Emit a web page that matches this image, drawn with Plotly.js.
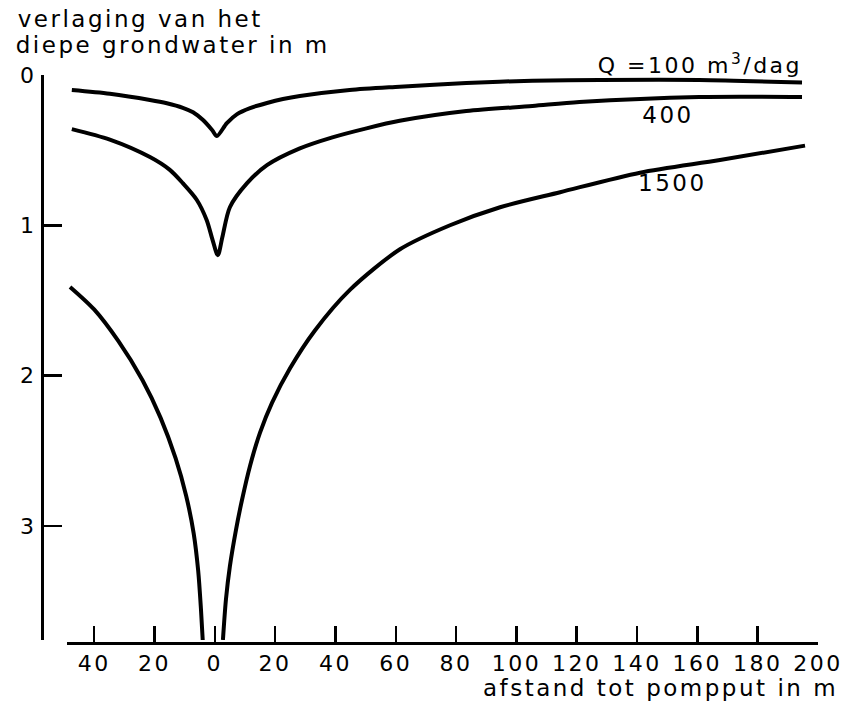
<!DOCTYPE html>
<html><head><meta charset="utf-8">
<script src="https://cdn.plot.ly/plotly-3.0.1.min.js"></script>
<style>body{margin:0;background:#fff} #chart text{letter-spacing:2.5px}</style>
</head><body><div id="chart" style="width:842px;height:703px"></div>
<script>
// Drawdown of deep groundwater (m) vs distance to pumping well (m)
const q100_x = [-47.4, -34.8, -21.5, -15.9, -10.6, -7.2, -3.9, -0.9, 0.7, 4, 7.4, 11.7, 17.3, 22.6, 28.2, 44.7, 61.3, 83.4, 105.3, 127.5, 160.6, 194.7];
const q100_y = [0.10, 0.125, 0.166, 0.188, 0.218, 0.248, 0.30, 0.366, 0.406, 0.32, 0.26, 0.22, 0.186, 0.16, 0.14, 0.10, 0.078, 0.053, 0.038, 0.033, 0.033, 0.05];

const q400_x = [-47.4, -34.8, -21.5, -15, -10.6, -6, -2.7, -0.7, 1, 2.5, 5, 10.7, 17.3, 28, 39, 50.3, 61.3, 83.4, 105.3, 120.9, 160.6, 194.7];
const q400_y = [0.36, 0.43, 0.546, 0.63, 0.72, 0.83, 0.965, 1.10, 1.2, 1.08, 0.88, 0.72, 0.60, 0.49, 0.415, 0.355, 0.305, 0.24, 0.206, 0.18, 0.146, 0.146];

const q1500_left_x = [-48, -40, -32, -24, -18, -13, -9.5, -7, -5.5, -4.6, -4];
const q1500_left_y = [1.41, 1.56, 1.77, 2.03, 2.28, 2.55, 2.80, 3.05, 3.30, 3.55, 3.76];
const q1500_right_x = [2.7, 3.7, 5.0, 7.0, 9.0, 11.7, 15.0, 19.0, 25.0, 33.2, 44.8, 61.4, 78.0, 94.6, 114.5, 141.0, 167.5, 195.7];
const q1500_right_y = [3.76, 3.49, 3.27, 3.03, 2.83, 2.60, 2.38, 2.18, 1.95, 1.70, 1.43, 1.16, 1.0, 0.88, 0.78, 0.65, 0.566, 0.47];

const xTickVals = [-40, -20, 0, 20, 40, 60, 80, 100, 120, 140, 160, 180, 200];
const xTickText = ['40', '20', '0', '20', '40', '60', '80', '100', '120', '140', '160', '180', '200'];
const yTickVals = [0, 1, 2, 3];
const yTickText = ['0', '1', '2', '3'];

const W = 842, H = 703;
const FONT = 'DejaVu Sans, sans-serif';
const lineStyle = {color: '#000', width: 4, shape: 'spline', smoothing: 0.8};

const traces = [
  {x: q100_x, y: q100_y, mode: 'lines', line: lineStyle, hoverinfo: 'skip'},
  {x: q400_x, y: q400_y, mode: 'lines', line: lineStyle, hoverinfo: 'skip'},
  {x: q1500_left_x, y: q1500_left_y, mode: 'lines', line: lineStyle, hoverinfo: 'skip'},
  {x: q1500_right_x, y: q1500_right_y, mode: 'lines', line: lineStyle, hoverinfo: 'skip'}
];

function ann(text, px, py, size) {
  return {text: text, xref: 'paper', yref: 'paper', x: px / W, y: 1 - py / H,
          xanchor: 'center', yanchor: 'middle', showarrow: false,
          font: {family: FONT, size: size, color: '#000'}};
}

const layout = {
  width: W, height: H,
  margin: {l: 0, r: 0, t: 0, b: 0},
  paper_bgcolor: '#fff', plot_bgcolor: '#fff',
  showlegend: false,
  font: {family: FONT, size: 22, color: '#000'},
  xaxis: {
    domain: [67 / W, 818 / W], range: [-49, 200],
    anchor: 'free', position: 1 - 643 / H,
    showline: true, linecolor: '#000', linewidth: 3,
    ticks: 'inside', ticklen: 16, tickwidth: 2.5, tickcolor: '#000',
    tickvals: xTickVals, ticktext: xTickText,
    showgrid: false, zeroline: false,
    tickfont: {family: FONT, size: 22, color: '#000'}
  },
  yaxis: {
    domain: [1 - 640 / H, 1 - 75 / H], range: [3.76, 0],
    anchor: 'free', position: 42 / W,
    showline: true, linecolor: '#000', linewidth: 3,
    ticks: 'inside', ticklen: 18, tickwidth: 2.5, tickcolor: '#000',
    tickvals: yTickVals, ticktext: yTickText,
    showgrid: false, zeroline: false,
    tickfont: {family: FONT, size: 22, color: '#000'}
  },
  annotations: [
    ann('verlaging van het', 140, 19, 23),
    ann('diepe grondwater in m', 173, 45, 23),
    ann('afstand tot pompput in m', 660, 688, 23),
    ann('Q =100 m<sup>3</sup>/dag', 700, 64, 22),
    ann('400', 668, 115, 23),
    ann('1500', 672, 183, 23)
  ]
};

Plotly.newPlot('chart', traces, layout, {staticPlot: true, displayModeBar: false});
</script>
</body></html>
